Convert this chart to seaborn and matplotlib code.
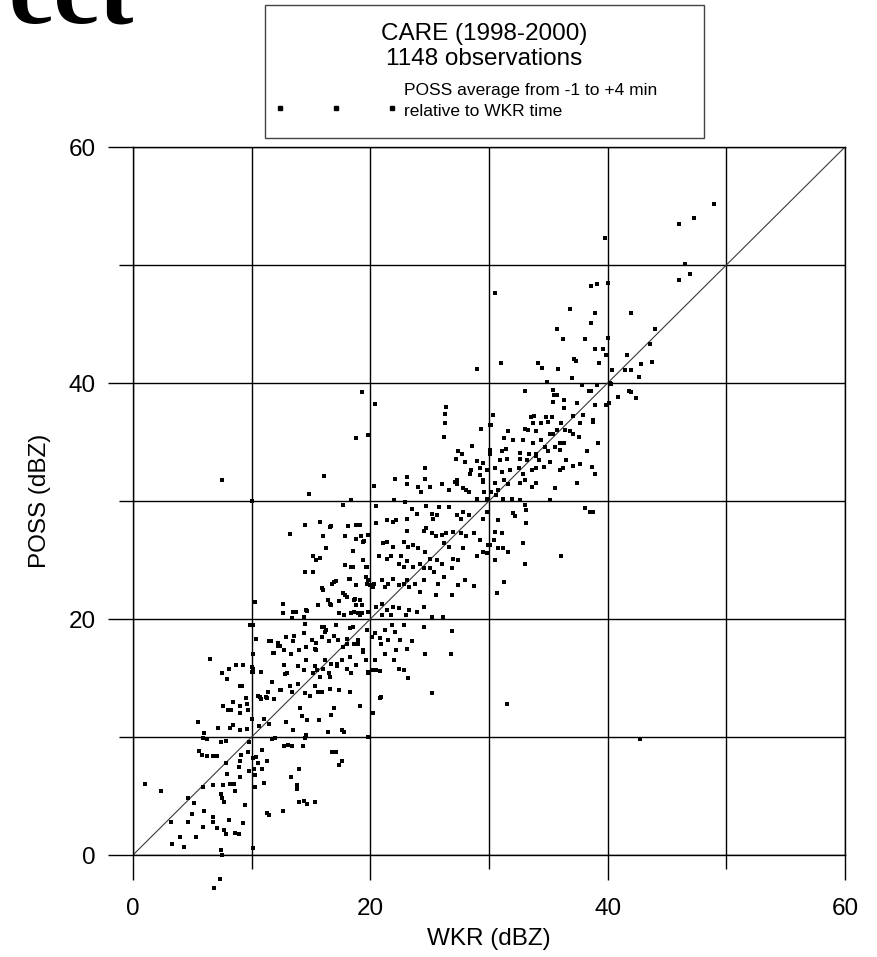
import matplotlib
matplotlib.use("Agg")
import matplotlib.pyplot as plt
from matplotlib.patches import Rectangle
from matplotlib.lines import Line2D
from matplotlib.ticker import MultipleLocator
from matplotlib.font_manager import FontProperties
import numpy as np
import pandas as pd
import seaborn as sns

# ---------------- data ----------------
# low range (WKR 0-21 dBZ)
wkr_low = [
    1.0, 2.4, 3.2, 3.3, 4.0, 4.3, 4.6, 4.6, 5.0, 5.1,
    5.3, 5.5, 5.6, 5.8, 5.9, 6.0, 5.9, 6.0, 5.9, 6.2,
    6.5, 6.2, 6.7, 7.1, 6.7, 6.7, 6.7, 7.1, 7.2, 7.4,
    7.4, 7.5, 7.5, 7.6, 7.6, 7.4, 7.5, 7.7, 7.8, 7.8,
    7.9, 7.7, 7.8, 7.9, 8.0, 8.1, 8.2, 8.1, 8.2, 8.3,
    8.4, 8.4, 8.5, 8.6, 8.7, 8.6, 8.9, 9.0, 9.2, 9.0,
    9.0, 9.0, 9.1, 9.0, 8.9, 9.0, 9.3, 9.3, 9.4, 9.5,
    9.6, 9.6, 9.7, 9.7, 9.8, 9.8, 9.9, 10.0, 10.0, 10.0,
    10.1, 10.1, 10.1, 10.2, 10.3, 10.3, 10.4, 10.4, 10.5, 10.5,
    10.6, 10.8, 10.8, 10.9, 10.9, 11.0, 11.0, 11.2, 11.3, 11.3,
    11.5, 11.4, 11.6, 11.5, 11.7, 11.7, 11.9, 11.9, 12.0, 12.2,
    12.4, 12.5, 12.6, 12.7, 12.8, 12.9, 12.9, 13.1, 13.3, 13.3,
    13.4, 13.4, 13.5, 13.6, 13.8, 13.8, 14.0, 14.0, 14.1, 14.2,
    14.3, 14.4, 14.5, 14.6, 14.5, 14.6, 14.7, 14.7, 14.9, 15.3,
    15.4, 15.4, 15.5, 15.6, 15.7, 16.1, 16.2, 16.3, 16.4, 16.6,
    16.7, 16.8, 16.9, 17.1, 17.2, 17.4, 17.6, 17.6, 17.8, 18.0,
    18.3, 18.4, 18.5, 19.0, 19.1, 19.4, 19.8, 19.8, 20.1, 20.2,
    20.4, 20.8, 20.8, 20.9, 7.3, 6.8,
]
poss_low = [
    6.0, 5.4, 2.8, 0.9, 1.5, 0.7, 4.8, 2.8, 3.5, 4.4,
    1.5, 11.3, 8.8, 8.5, 5.8, 3.7, 2.4, 10.3, 9.9, 9.8,
    16.6, 8.4, 8.4, 8.4, 5.9, 3.2, 2.8, 2.3, 10.8, 9.6,
    0.4, 0.0, 15.4, 12.6, 5.9, 5.2, 4.8, 4.5, 9.7, 7.8,
    6.9, 2.1, 1.8, 14.9, 12.3, 15.8, 10.8, 3.0, 6.0, 12.3,
    13.0, 11.0, 6.0, 5.4, 16.1, 1.9, 1.8, 14.3, 14.3, 12.6,
    12.0, 10.6, 8.5, 8.0, 7.5, 6.6, 16.1, 2.7, 4.2, 13.3,
    12.8, 10.7, 12.3, 8.7, 9.6, 7.1, 19.5, 15.9, 15.5, 11.5,
    0.6, 17.0, 8.2, 7.3, 6.8, 5.8, 18.3, 8.3, 7.8, 13.5,
    10.9, 15.5, 13.2, 8.9, 7.3, 6.1, 11.5, 13.4, 8.0, 3.6,
    3.4, 13.8, 18.1, 11.1, 14.7, 9.8, 17.1, 13.2, 9.9, 18.0,
    17.7, 14.0, 3.7, 9.2, 15.3, 11.3, 18.5, 9.3, 6.6, 17.0,
    9.2, 13.8, 10.6, 18.6, 5.9, 5.6, 4.5, 7.3, 12.5, 11.8,
    9.2, 4.6, 19.6, 17.6, 9.9, 10.2, 4.3, 11.4, 13.5, 4.5,
    18.0, 17.4, 15.7, 13.8, 11.4, 19.3, 16.5, 19.1, 10.4, 15.1,
    11.9, 8.7, 12.5, 8.7, 16.2, 7.6, 8.0, 10.6, 10.4, 18.3,
    13.8, 15.4, 19.3, 17.9, 12.6, 17.2, 15.5, 10.0, 15.7, 12.0,
    16.5, 13.3, 15.6, 17.9, -2.0, -2.8,
]

# middle range (WKR 10-31 dBZ)
wkr_mid = [
    26.3, 26.2, 30.1, 29.3, 18.8, 19.8, 28.6, 27.4, 27.7, 30.1,
    30.1, 27.2, 28.0, 29.0, 29.5, 30.5, 16.1, 14.8, 20.3, 22.1,
    23.1, 23.1, 24.6, 24.6, 24.0, 24.3, 25.0, 26.0, 26.6, 27.1,
    27.3, 27.8, 28.4, 28.5, 29.2, 29.5, 29.6, 29.8, 30.2, 30.8,
    28.3, 29.0, 18.4, 17.7, 22.0, 22.9, 23.5, 23.9, 20.5, 21.4,
    21.9, 22.2, 23.1, 24.7, 25.2, 25.3, 25.8, 25.6, 26.6, 27.3,
    27.6, 27.8, 28.3, 29.5, 29.8, 30.8, 15.8, 16.7, 16.6, 14.5,
    13.2, 18.1, 18.8, 19.1, 19.8, 20.5, 23.1, 24.5, 24.7, 25.2,
    25.5, 26.0, 26.4, 27.0, 27.6, 28.1, 28.7, 29.2, 30.1, 30.8,
    16.0, 16.3, 17.9, 18.8, 19.4, 18.5, 21.1, 21.4, 21.9, 22.8,
    23.2, 23.6, 24.0, 24.6, 25.0, 25.6, 26.2, 26.6, 27.0, 27.4,
    27.8, 29.0, 29.5, 29.8, 15.2, 15.8, 14.5, 15.2, 17.9, 18.4,
    19.6, 19.4, 20.7, 21.4, 21.7, 22.4, 22.6, 22.8, 23.1, 23.6,
    24.2, 24.5, 25.0, 25.4, 26.0, 26.2, 26.9, 28.0, 28.7, 30.7,
    17.1, 16.8, 18.2, 18.8, 19.6, 19.7, 20.1, 20.3, 21.0, 21.2,
    21.5, 21.9, 22.4, 22.8, 23.1, 23.3, 23.8, 24.2, 24.5, 25.5,
    25.7, 26.9, 27.4, 10.3, 12.6, 12.6, 15.6, 15.9, 16.4, 16.6,
    17.4, 17.7, 18.0, 18.6, 18.8, 19.3, 19.8, 20.5, 21.0, 21.4,
    21.9, 22.4, 23.0, 23.3, 23.9, 24.5, 25.2, 26.1, 13.5, 13.4,
    14.4, 14.6, 17.4, 18.4, 19.1, 21.0, 21.7, 26.9, 24.5, 23.5,
    22.5, 23.1, 22.2, 21.2, 22.0, 24.6, 26.8, 22.4, 22.8, 23.2,
    20.5, 25.2, 20.9, 21.8, 21.2, 22.1, 22.8, 20.8, 21.5,
]
poss_mid = [
    36.6, 35.4, 36.4, 36.1, 35.3, 35.6, 34.7, 34.2, 34.0, 34.3,
    34.0, 33.6, 33.3, 33.4, 33.2, 32.8, 32.1, 30.6, 31.3, 31.9,
    32.0, 31.4, 32.8, 31.9, 31.2, 30.8, 31.2, 31.4, 30.9, 31.6,
    31.4, 31.1, 32.3, 32.6, 32.2, 31.6, 30.8, 30.2, 30.8, 30.9,
    30.8, 30.2, 30.1, 29.7, 30.1, 29.9, 29.3, 28.9, 29.6, 28.4,
    28.2, 28.4, 28.5, 29.6, 28.9, 28.5, 29.5, 28.8, 29.5, 28.8,
    28.5, 29.1, 28.8, 28.5, 29.1, 28.4, 28.2, 27.9, 27.8, 28.0,
    27.2, 27.9, 28.0, 28.0, 27.1, 28.1, 27.5, 27.5, 27.7, 27.3,
    27.0, 27.1, 27.3, 27.4, 27.3, 27.0, 27.3, 26.7, 26.3, 26.0,
    27.0, 26.0, 27.0, 26.8, 26.5, 25.8, 26.4, 26.5, 26.1, 26.5,
    26.1, 26.3, 26.0, 25.7, 25.1, 25.0, 26.4, 26.1, 25.1, 25.0,
    26.0, 25.3, 25.7, 25.6, 25.3, 25.2, 24.0, 24.0, 24.6, 24.4,
    24.4, 25.0, 25.3, 25.1, 25.3, 24.7, 25.3, 24.4, 24.9, 24.4,
    24.7, 24.3, 24.3, 24.0, 24.7, 23.6, 24.3, 23.3, 22.8, 22.2,
    23.2, 23.0, 23.4, 22.9, 23.6, 23.0, 22.7, 23.0, 23.3, 22.7,
    23.0, 23.4, 22.9, 23.0, 23.3, 22.7, 23.0, 22.3, 23.3, 22.0,
    23.0, 22.0, 22.9, 21.4, 21.3, 20.5, 21.2, 22.6, 21.6, 21.3,
    21.5, 22.2, 21.9, 21.6, 21.2, 21.2, 20.6, 21.0, 21.3, 20.8,
    21.0, 20.9, 20.3, 20.8, 20.6, 21.0, 20.2, 20.2, 20.6, 20.1,
    20.2, 20.8, 20.5, 20.5, 20.3, 20.3, 20.3, 19.0, 19.3, 18.1,
    18.2, 17.5, 17.4, 17.0, 16.5, 17.0, 17.0, 15.8, 15.7, 15.0,
    15.7, 13.7, 13.4, 19.5, 19.1, 18.9, 19.5, 18.4, 18.2,
]

# dense core and scattered outliers (WKR 7-21 dBZ)
wkr_core = [
    11.5, 12.2, 12.7, 13.5, 14.0, 14.4, 15.1, 15.3, 15.9, 15.9,
    16.2, 16.5, 16.9, 17.1, 17.3, 17.7, 18.0, 18.3, 18.6, 19.0,
    19.4, 19.7, 20.1, 20.4, 11.8, 12.7, 13.0, 13.9, 14.4, 14.6,
    15.2, 15.3, 15.8, 16.0, 16.5, 16.7, 17.2, 17.6, 18.0, 18.3,
    18.8, 19.6, 19.8, 11.7, 12.4, 13.2, 13.9, 14.5, 15.3, 15.9,
    16.6, 17.4, 18.3, 10.7, 11.3, 10.1, 10.1, 10.1, 7.5, 10.0,
    19.3, 20.4, 19.2, 19.5, 15.4, 20.7, 18.5, 19.7, 18.3, 16.9,
    16.0, 19.8, 20.0, 20.2, 13.7, 14.7, 16.7, 17.9, 18.7, 19.1,
    17.8, 18.6, 19.0, 19.3,
]
poss_core = [
    18.1, 17.7, 17.4, 18.1, 17.4, 18.8, 18.2, 17.5, 19.3, 18.5,
    18.9, 18.1, 18.6, 19.5, 18.2, 17.6, 17.9, 19.2, 17.9, 18.2,
    17.4, 19.1, 18.5, 18.8, 17.1, 16.1, 15.4, 16.0, 15.7, 16.5,
    15.4, 16.0, 15.1, 15.8, 15.4, 16.2, 16.0, 16.5, 15.8, 16.8,
    16.1, 16.5, 15.4, 14.7, 14.0, 14.3, 14.5, 13.7, 14.3, 13.8,
    14.1, 14.0, 13.8, 13.4, 13.3, 15.8, 15.5, 19.5, 31.8, 30.0,
    39.2, 38.2, 27.0, 26.6, 25.0, 25.3, 24.4, 24.4, 23.4, 23.1,
    22.5, 23.3, 22.9, 22.7, 20.6, 20.7, 21.2, 22.0, 21.7, 21.6,
    20.3, 20.6, 20.5, 20.5,
]

# upper range (WKR 26-49 dBZ)
wkr_high = [
    30.5, 29.0, 31.0, 26.4, 26.3, 38.6, 39.1, 40.0, 36.8, 38.9,
    38.6, 35.7, 36.2, 38.1, 38.9, 39.6, 40.0, 39.9, 39.3, 41.6,
    37.2, 37.3, 34.1, 34.5, 35.8, 40.4, 41.5, 37.0, 34.9, 37.8,
    38.4, 38.6, 39.1, 40.2, 40.3, 33.0, 35.4, 35.5, 35.7, 36.3,
    35.4, 37.4, 38.9, 39.9, 40.1, 40.9, 41.8, 36.3, 30.3, 33.5,
    33.8, 34.8, 35.3, 35.0, 37.1, 37.9, 33.7, 34.4, 36.1, 37.7,
    38.8, 38.8, 30.2, 31.6, 33.0, 33.3, 34.0, 35.1, 35.4, 35.7,
    36.4, 36.8, 37.1, 37.6, 31.3, 32.0, 32.9, 33.7, 34.4, 34.7,
    35.6, 36.0, 36.3, 39.2, 31.1, 31.4, 32.6, 33.4, 34.0, 35.0,
    36.0, 38.3, 30.9, 31.5, 32.6, 33.2, 34.0, 34.2, 35.1, 36.5,
    37.1, 37.7, 36.0, 36.2, 38.7, 38.9, 29.8, 31.1, 31.8, 32.5,
    32.9, 33.6, 34.0, 34.6, 27.3, 28.1, 29.5, 31.3, 31.6, 32.6,
    33.0, 33.6, 34.0, 35.6, 37.4, 30.6, 31.2, 31.9, 32.6, 33.0,
    33.1, 35.1, 38.1, 38.5, 38.8, 32.0, 32.2, 29.2, 30.5, 33.1,
    30.5, 31.1, 32.9, 31.2, 31.6, 30.5, 33.0, 36.1, 31.3, 31.5,
    42.7, 30.4, 29.9, 49.0, 47.3, 46.0, 39.8, 46.5, 46.9, 46.0,
    42.0, 44.0, 43.6, 43.7, 42.8, 42.0, 42.6, 42.0, 42.4,
]
poss_high = [
    47.6, 41.2, 41.7, 38.0, 37.4, 48.2, 48.4, 48.5, 46.3, 45.9,
    45.1, 44.6, 43.7, 43.7, 42.9, 42.9, 43.8, 42.4, 41.7, 42.4,
    42.0, 41.9, 41.7, 41.3, 41.2, 41.1, 41.1, 40.4, 40.1, 39.8,
    39.3, 39.3, 39.8, 40.0, 39.9, 39.3, 39.4, 39.0, 39.0, 38.6,
    38.4, 38.3, 38.1, 38.1, 38.3, 38.8, 39.3, 37.9, 37.3, 37.1,
    37.2, 37.1, 37.1, 36.7, 37.2, 37.3, 36.6, 36.6, 36.6, 36.6,
    36.9, 36.7, 36.4, 35.9, 36.1, 36.0, 35.9, 35.7, 35.7, 36.0,
    36.0, 35.9, 35.7, 35.4, 35.3, 35.2, 35.2, 34.9, 35.2, 34.6,
    34.6, 34.9, 34.9, 34.9, 34.2, 34.4, 34.1, 34.0, 34.0, 34.2,
    34.3, 34.2, 33.5, 33.6, 33.6, 33.5, 33.8, 33.5, 33.3, 33.5,
    33.0, 33.1, 32.6, 32.8, 32.9, 32.3, 32.6, 32.5, 32.6, 32.8,
    32.3, 32.6, 32.8, 32.9, 31.8, 30.9, 31.8, 31.8, 31.4, 31.5,
    31.8, 31.2, 31.5, 31.1, 31.5, 30.5, 30.2, 30.2, 30.1, 29.7,
    29.2, 30.1, 29.4, 29.1, 29.1, 29.0, 28.7, 32.8, 31.5, 28.1,
    27.4, 27.3, 26.4, 26.0, 25.7, 25.0, 24.7, 25.3, 23.1, 12.8,
    9.8, 26.7, 26.3, 55.2, 54.0, 53.5, 52.3, 50.1, 49.2, 48.7,
    45.9, 44.6, 43.3, 41.8, 41.6, 41.1, 40.5, 39.2, 38.7,
]

one_to_one = [0, 60]
x_ticks = [0, 20, 40, 60]
y_ticks = [0, 20, 40, 60]

for a, b in [(wkr_low, poss_low), (wkr_mid, poss_mid),
             (wkr_core, poss_core), (wkr_high, poss_high)]:
    assert len(a) == len(b), (len(a), len(b))

df = pd.DataFrame({
    "WKR": wkr_low + wkr_mid + wkr_core + wkr_high,
    "POSS": poss_low + poss_mid + poss_core + poss_high,
})

# ---------------- style ----------------
sns.set_theme(style="ticks")
plt.rcParams["font.family"] = ["Liberation Sans", "DejaVu Sans"]
plt.rcParams.update({
    "text.color": "black", "axes.labelcolor": "black",
    "xtick.color": "black", "ytick.color": "black",
    "axes.edgecolor": "black",
})

W, H = 877, 957
fig = plt.figure(figsize=(W / 100, H / 100), dpi=100)
ax = fig.add_axes([133 / W, 102 / H, 712 / W, 708 / H])

ax.set_xlim(0, 60)
ax.set_ylim(0, 60)
ax.set_xticks(x_ticks)
ax.set_yticks(y_ticks)
ax.xaxis.set_minor_locator(MultipleLocator(10))
ax.yaxis.set_minor_locator(MultipleLocator(10))
ax.grid(True, which="both", color="black", linewidth=1.0)
ax.set_axisbelow(True)

for s in ax.spines.values():
    s.set_visible(True)
    s.set_linewidth(1.0)
    s.set_color("black")

ax.tick_params(which="major", direction="out", length=18, width=1.0,
               labelsize=17.5, top=False, right=False)
ax.tick_params(which="minor", direction="out", length=10, width=1.0,
               top=False, right=False)
ax.tick_params(axis="x", which="major", pad=13)
ax.tick_params(axis="y", which="major", pad=9)

sns.lineplot(x=one_to_one, y=one_to_one, ax=ax, color="#3a3a3a",
             linewidth=0.8, zorder=2)
sns.scatterplot(data=df, x="WKR", y="POSS", ax=ax, marker="s", s=9,
                color="black", linewidth=0, clip_on=False, zorder=3,
                legend=False)

ax.set_xlabel("WKR (dBZ)", fontsize=17.5)
ax.set_ylabel("POSS (dBZ)", fontsize=17.5)
ax.xaxis.set_label_coords(0.5, (855 - 939) / 708)
ax.xaxis.label.set_va("center")
ax.yaxis.set_label_coords((40 - 133) / 712, 0.5)
ax.yaxis.label.set_va("center")

# ---------------- legend box ----------------
fig.add_artist(Rectangle((265 / W, 1 - 138 / H), 439 / W, 133 / H,
                         transform=fig.transFigure, facecolor="white",
                         edgecolor="#444444", linewidth=1.0))
fig.text(484.5 / W, 1 - 34 / H, "CARE (1998-2000)", ha="center",
         va="center", fontsize=17.5)
fig.text(484.5 / W, 1 - 59 / H, "1148 observations", ha="center",
         va="center", fontsize=17.5)
fig.text(404 / W, 1 - 90 / H, "POSS average from -1 to +4 min",
         ha="left", va="center", fontsize=12.5)
fig.text(404 / W, 1 - 111 / H, "relative to WKR time",
         ha="left", va="center", fontsize=12.5)
fig.add_artist(Line2D([280 / W, 336 / W, 392 / W], [1 - 108 / H] * 3,
                      transform=fig.transFigure, linestyle="none",
                      marker="s", markersize=2.6, color="black"))

# cropped page heading fragment (only its lower part is inside the page)
serif_bold = FontProperties(family="Liberation Serif", weight="bold",
                            size=74)
fig.text(8 / W, 1 - 22 / H, "ect", fontproperties=serif_bold,
         va="baseline", ha="left")

fig.savefig("out.png", dpi=100)
